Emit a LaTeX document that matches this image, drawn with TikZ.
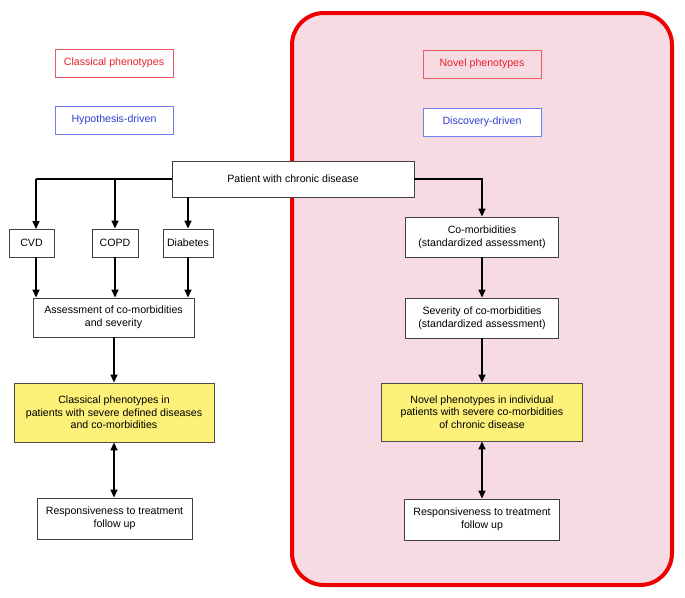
\documentclass[tikz,border=0pt]{standalone}
\usepackage{fontspec}
\setmainfont{Liberation Sans}
\usetikzlibrary{arrows.meta}
\definecolor{pinkbg}{HTML}{F7DBE3}
\definecolor{yellowbox}{HTML}{FDF17A}
\definecolor{redtxt}{HTML}{E8202A}
\definecolor{redbrd}{HTML}{EE5A5E}
\definecolor{bluetxt}{HTML}{2E3FD0}
\definecolor{bluebrd}{HTML}{7080F0}
\definecolor{bigred}{HTML}{EE0000}
\begin{document}
\begin{tikzpicture}[x=1pt,y=-1pt,
  every node/.style={font=\fontsize{10.6}{12.7}\selectfont, align=center, inner sep=0pt},
  box/.style={draw=black!75, line width=0.9pt, fill=white},
  ybox/.style={draw=black!70, line width=0.9pt, fill=yellowbox},
  redlab/.style={draw=redbrd, line width=0.9pt, text=redtxt, minimum width=118, minimum height=28},
  bluelab/.style={draw=bluebrd, line width=0.9pt, text=bluetxt, minimum width=118, minimum height=28},
  arr/.style={line width=1.5pt, -{Triangle[length=8pt,width=7pt]}},
  darr/.style={line width=1.5pt, {Triangle[length=8pt,width=7pt]}-{Triangle[length=8pt,width=7pt]}},
  ln/.style={line width=1.5pt}
]
\useasboundingbox (0,0) rectangle (685,597);
\fill[white] (0,0) rectangle (685,597);
% big red panel
\draw[bigred, line width=4pt, fill=pinkbg, rounded corners=32] (292,13) rectangle (672,585);

% labels
\node[redlab] (cp) at (114,63) {Classical phenotypes};
\node[bluelab] (hd) at (114,120) {Hypothesis-driven};
\node[redlab, fill=pinkbg] (np) at (482,64) {Novel phenotypes};
\node[bluelab, fill=white] (dd) at (482,122) {Discovery-driven};

% main nodes
\node[box, minimum width=242, minimum height=36] (pat) at (293,179) {Patient with chronic disease};
\node[box, minimum width=45, minimum height=28] (cvd) at (31.5,243) {CVD};
\node[box, minimum width=46, minimum height=28] (copd) at (115,243) {COPD};
\node[box, minimum width=50, minimum height=28] (dia) at (188,243) {Diabetes};
\node[box, minimum width=161, minimum height=39] (ass) at (113.5,317.5) {Assessment of co-morbidities\\and severity};
\node[ybox, minimum width=200, minimum height=59] (cls) at (114,412.5) {Classical phenotypes in\\patients with severe defined diseases\\and co-morbidities};
\node[box, minimum width=155, minimum height=41] (resl) at (114.5,518.5) {Responsiveness to treatment\\follow up};

\node[box, minimum width=153, minimum height=40] (com) at (482,237) {Co-morbidities\\(standardized assessment)};
\node[box, minimum width=153, minimum height=40] (sev) at (482,318) {Severity of co-morbidities\\(standardized assessment)};
\node[ybox, minimum width=201, minimum height=58] (nov) at (482,412) {Novel phenotypes in individual\\patients with severe co-morbidities\\of chronic disease};
\node[box, minimum width=155, minimum height=41] (resr) at (482,519.5) {Responsiveness to treatment\\follow up};

% connectors left
\coordinate (cvdtop) at (36,229);
\draw[ln] (pat.west) -- (cvdtop |- pat.west);
\draw[arr] (cvdtop |- pat.west) -- (cvdtop);
\draw[arr] (copd.north |- pat.west) -- (copd.north);
\draw[arr] (dia.north |- pat.south) -- (dia.north);
\draw[arr] (cvdtop |- cvd.south) -- (cvdtop |- ass.north);
\draw[arr] (copd.south) -- (copd.south |- ass.north);
\draw[arr] (dia.south) -- (dia.south |- ass.north);
\draw[arr] (cls.north |- ass.south) -- (cls.north);
\draw[darr] (cls.south) -- (cls.south |- resl.north);

% connectors right
\draw[arr] (pat.east) -| (com.north);
\draw[arr] (com.south) -- (sev.north);
\draw[arr] (sev.south) -- (nov.north);
\draw[darr] (nov.south) -- (resr.north);
\end{tikzpicture}
\end{document}
